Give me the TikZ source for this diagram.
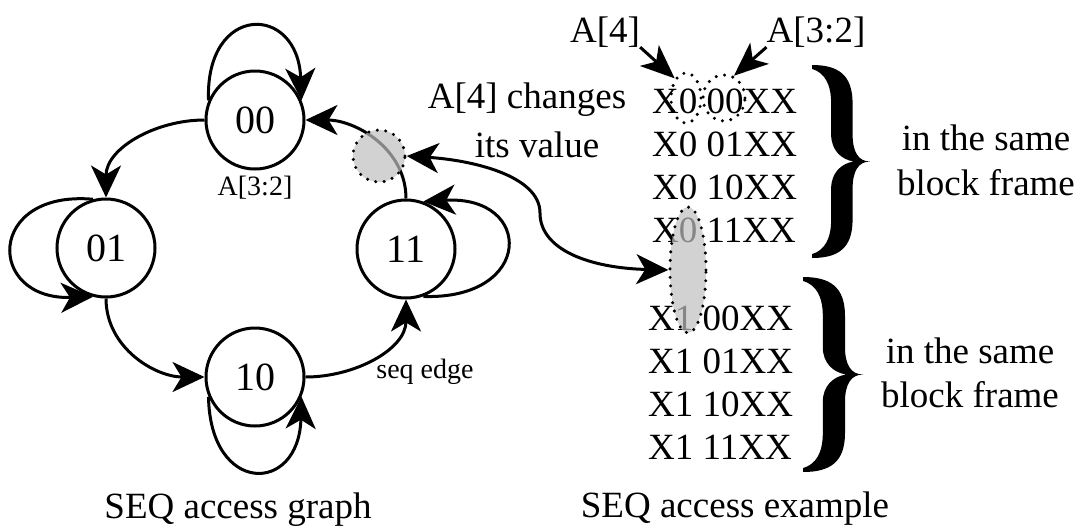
\documentclass[tikz,border=0pt]{standalone}
\usepackage{fontspec}
\setmainfont{Liberation Serif}
\usetikzlibrary{arrows.meta,shapes.geometric}
\tikzset{tipA/.tip={Stealth[length=32pt,width=30pt,inset=9pt]},
         tipB/.tip={Stealth[length=34pt,width=28pt,inset=9pt]}}
\begin{document}
\begin{tikzpicture}[x=1pt,y=-1pt,
  state/.style={circle, draw, line width=3pt, minimum size=98pt, inner sep=0pt, font=\fontsize{40}{44}\selectfont},
  edge/.style={line width=3pt, -{tipA}},
  bigtxt/.style={font=\fontsize{37}{42}\selectfont, inner sep=0pt},
  rowtxt/.style={font=\fontsize{37}{40}\selectfont, inner sep=0pt, anchor=base west},
  smalltxt/.style={font=\fontsize{28}{30}\selectfont, inner sep=0pt},
  dotline/.style={line width=3.4pt, dash pattern=on 0pt off 8.5pt, line cap=round},
  shaded/.style={fill=black!25, fill opacity=0.7, draw=black, dotline, inner sep=0pt}
]
\useasboundingbox (0,0) rectangle (1083,528);

% ---- graph ----
\node[state] (n00) at (255,120) {00};
\node[state] (n01) at (106,248) {01};
\node[state] (n10) at (255,377) {10};
\node[state] (n11) at (406,249) {11};

\draw[edge] (n00.west) to[out=180,in=90] (n01.north);
\draw[edge] (n01.south) to[out=-90,in=180] (n10.west);
\draw[edge] (n10.east) to[out=0,in=-90] (n11.south);
\draw[edge] (n11.north) to[out=90,in=0] (n00.east);

% self loops
\draw[edge] (n00.157) .. controls (205,3) and (298,3) .. (n00.23);
\draw[edge] (n01.105) .. controls (-14,190) and (-14,300) .. (n01.-105);
\draw[edge] (n10.-157) .. controls (210,495) and (299,495) .. (n10.-23);
\draw[edge] (n11.-70) .. controls (534,300) and (534,195) .. (n11.70);

\node[smalltxt] (lab32) at (255,188) {A[3:2]};
\node[smalltxt] (labseq) at (425,372) {seq edge};

% shaded spot on the 11->00 edge
\node[circle, minimum size=52pt, shaded] (sh) at (379,156) {};

% ---- example ----
\node[rowtxt] (r1) at (652,113) {X0 00XX};
\node[rowtxt] (r2) at (652,156) {X0 01XX};
\node[rowtxt] (r3) at (652,199) {X0 10XX};
\node[rowtxt] (r4) at (652,242) {X0 11XX};
\node[rowtxt] (r5) at (648,330) {X1 00XX};
\node[rowtxt] (r6) at (648,373) {X1 01XX};
\node[rowtxt] (r7) at (648,416) {X1 10XX};
\node[rowtxt] (r8) at (648,459) {X1 11XX};

\node[ellipse, minimum width=30pt, minimum height=50pt, inner sep=0pt, draw, dotline] (e4) at (686,98) {};
\node[ellipse, minimum width=42pt, minimum height=46pt, inner sep=0pt, draw, dotline] (e32) at (724,98) {};
\node[ellipse, minimum width=36pt, minimum height=126pt, shaded] (ov) at (688,270) {};

\node[bigtxt, anchor=base] (t4) at (605,42) {A[4]};
\node[bigtxt, anchor=base] (t32) at (816,42) {A[3:2]};
\draw[line width=3pt, -{tipB}] (t4.south east) -- (e4.120);
\draw[line width=3pt, -{tipB}] (t32.south west) -- (e32.66);

\node[bigtxt, anchor=base] (ch1) at (527,108) {A[4] changes};
\node[bigtxt, anchor=base] (ch2) at (537,157) {its value};

\draw[line width=3pt, {tipA}-{tipA}]
  (sh.east) .. controls (470,160) and (540,175) .. (540,213)
  .. controls (540,250) and (590,268) .. (ov.west);

% braces
\begin{scope}[shift={(812,65)}, x=58pt, y=-193pt]
\fill (0,0) .. controls (0.45,0.0) and (0.7,0.05) .. (0.7,0.2) -- (0.7,0.36)
  .. controls (0.7,0.45) and (0.8,0.5) .. (1,0.5)
  .. controls (0.8,0.5) and (0.7,0.55) .. (0.7,0.64) -- (0.7,0.8)
  .. controls (0.7,0.95) and (0.45,1) .. (0,1)
  -- (0,0.98) .. controls (0.22,0.96) and (0.33,0.9) .. (0.33,0.8) -- (0.33,0.64)
  .. controls (0.33,0.56) and (0.5,0.51) .. (0.72,0.5)
  .. controls (0.5,0.49) and (0.33,0.44) .. (0.33,0.36) -- (0.33,0.2)
  .. controls (0.33,0.1) and (0.22,0.04) .. (0,0.02) -- cycle;
\end{scope}
\begin{scope}[shift={(803,277)}, x=60pt, y=-195pt]
\fill (0,0) .. controls (0.45,0.0) and (0.7,0.05) .. (0.7,0.2) -- (0.7,0.36)
  .. controls (0.7,0.45) and (0.8,0.5) .. (1,0.5)
  .. controls (0.8,0.5) and (0.7,0.55) .. (0.7,0.64) -- (0.7,0.8)
  .. controls (0.7,0.95) and (0.45,1) .. (0,1)
  -- (0,0.98) .. controls (0.22,0.96) and (0.33,0.9) .. (0.33,0.8) -- (0.33,0.64)
  .. controls (0.33,0.56) and (0.5,0.51) .. (0.72,0.5)
  .. controls (0.5,0.49) and (0.33,0.44) .. (0.33,0.36) -- (0.33,0.2)
  .. controls (0.33,0.1) and (0.22,0.04) .. (0,0.02) -- cycle;
\end{scope}

\node[bigtxt, anchor=base] (f1a) at (986,150) {in the same};
\node[bigtxt, anchor=base] (f1b) at (986,195) {block frame};
\node[bigtxt, anchor=base] (f2a) at (970,363) {in the same};
\node[bigtxt, anchor=base] (f2b) at (970,407) {block frame};

\node[bigtxt, anchor=base] (cap1) at (238,518) {SEQ access graph};
\node[bigtxt, anchor=base] (cap2) at (735,517) {SEQ access example};
\end{tikzpicture}
\end{document}
